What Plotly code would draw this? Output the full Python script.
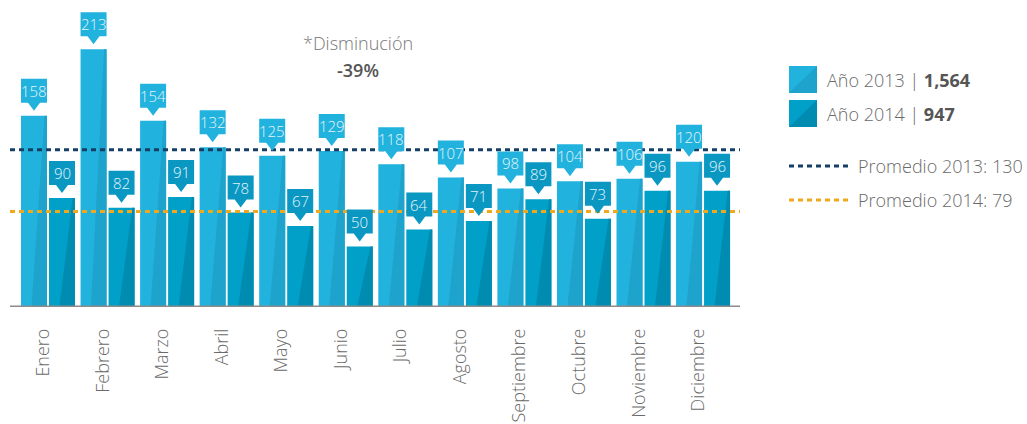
import plotly.graph_objects as go

# Monthly totals
months = ["Enero", "Febrero", "Marzo", "Abril", "Mayo", "Junio", "Julio",
          "Agosto", "Septiembre", "Octubre", "Noviembre", "Diciembre"]
values_2013 = [158, 213, 154, 132, 125, 129, 118, 107, 98, 104, 106, 120]
values_2014 = [90, 82, 91, 78, 67, 50, 64, 71, 89, 73, 96, 96]

total_2013 = sum(values_2013)
total_2014 = sum(values_2014)
avg_2013 = round(total_2013 / len(values_2013))
avg_2014 = round(total_2014 / len(values_2014))
change_pct = round((total_2014 / total_2013 - 1) * 100)

# colours
C13, C13_DARK = "#22b2de", "#1ea3cc"
C14, C14_DARK = "#00a0c8", "#008cb1"
AVG13_COLOR, AVG14_COLOR = "#163f66", "#f0a81c"
TEXT = "#6a6a6a"
FONT = "Open Sans"

# page geometry (pixels)
W, H = 1027, 424
ML, MR, MT, MB = 10, 287, 10, 117
PW, PH = W - ML - MR, H - MT - MB
PITCH = 59.55          # pixels per month group
FIRST_CENTER = 48      # pixel x of first group centre
BAR_W = 26 / PITCH
OFF13 = -27 / PITCH
OFF14 = 1 / PITCH
PX_PER_UNIT = 1.21

x_min = (ML - FIRST_CENTER) / PITCH
x_max = (ML + PW - FIRST_CENTER) / PITCH
y_max = PH / PX_PER_UNIT


def paper_x(px):
    return (px - ML) / PW


def paper_y(py):
    return (MT + PH - py) / PH


idx = list(range(len(months)))

fig = go.Figure()
fig.add_trace(go.Bar(x=idx, y=values_2013, width=BAR_W, offset=OFF13,
                     marker=dict(color=C13, line=dict(width=0)),
                     name="2013", hoverinfo="skip"))
fig.add_trace(go.Bar(x=idx, y=values_2014, width=BAR_W, offset=OFF14,
                     marker=dict(color=C14, line=dict(width=0)),
                     name="2014", hoverinfo="skip"))

shapes = []
annotations = []

# subtle diagonal shading on the right side of each bar
for vals, off, dark in ((values_2013, OFF13, C13_DARK), (values_2014, OFF14, C14_DARK)):
    for i, v in enumerate(vals):
        xl = i + off
        xr = xl + BAR_W
        path = (f"M {xr - 0.04},{v} L {xr},{v} L {xr},0 "
                f"L {xl + 0.4 * BAR_W},0 Z")
        shapes.append(dict(type="path", xref="x", yref="y", path=path,
                           fillcolor=dark, line=dict(width=0), layer="above"))

# average lines
for avg, col in ((avg_2013, AVG13_COLOR), (avg_2014, AVG14_COLOR)):
    shapes.append(dict(type="line", xref="paper", yref="y", x0=0, x1=1,
                       y0=avg, y1=avg,
                       line=dict(color=col, width=3, dash="5px,4px")))

# baseline
shapes.append(dict(type="line", xref="paper", yref="y", x0=0, x1=1, y0=0, y1=0,
                   line=dict(color="#8c8c8c", width=3)))

# value callouts above each bar
HW = 6 / PITCH
for vals, off, col in ((values_2013, OFF13, C13), (values_2014, OFF14, "#0a98c2")):
    for i, v in enumerate(vals):
        xl = i + off
        xr = xl + BAR_W
        xc = (xl + xr) / 2
        path = (f"M {xl},37 L {xr},37 L {xr},13 L {xc + HW},13 L {xc},5 "
                f"L {xc - HW},13 L {xl},13 Z")
        shapes.append(dict(type="path", xref="x", yref="y", ysizemode="pixel",
                           yanchor=v, path=path, fillcolor=col,
                           line=dict(width=0)))
        annotations.append(dict(x=xc, y=v, xref="x", yref="y", yshift=25,
                                xanchor="center", yanchor="middle",
                                text=str(v), showarrow=False,
                                font=dict(family=FONT, size=15, color="#e2f5fb",
                                          weight=300)))

# legend: coloured squares split diagonally
for top, light, dark in ((66, C13, C13_DARK), (100, "#00a0c8", C14_DARK)):
    x0, x1 = paper_x(789), paper_x(817)
    y0, y1 = paper_y(top + 27), paper_y(top)
    shapes.append(dict(type="rect", xref="paper", yref="paper",
                       x0=x0, x1=x1, y0=y0, y1=y1,
                       fillcolor=light, line=dict(width=0)))
    shapes.append(dict(type="path", xref="paper", yref="paper",
                       path=f"M {x0},{y0} L {x1},{y0} L {x1},{y1} Z",
                       fillcolor=dark, line=dict(width=0)))

legend_rows = [
    (80, f"Año 2013 | <b><span style='color:#555555'>{total_2013:,}</span></b>"),
    (114, f"Año 2014 | <b><span style='color:#555555'>{total_2014:,}</span></b>"),
]
for y, txt in legend_rows:
    annotations.append(dict(x=paper_x(825), y=paper_y(y), xref="paper", yref="paper",
                            xanchor="left", yanchor="middle", text=txt,
                            showarrow=False,
                            font=dict(family=FONT, size=18, color=TEXT, weight=300)))

for y, col, txt in ((166, AVG13_COLOR, f"Promedio 2013: {avg_2013}"),
                    (200, AVG14_COLOR, f"Promedio 2014: {avg_2014}")):
    shapes.append(dict(type="line", xref="paper", yref="paper",
                       x0=paper_x(789), x1=paper_x(849),
                       y0=paper_y(y), y1=paper_y(y),
                       line=dict(color=col, width=3, dash="5px,4px")))
    annotations.append(dict(x=paper_x(856), y=paper_y(y), xref="paper", yref="paper",
                            xanchor="left", yanchor="middle", text=txt,
                            showarrow=False,
                            font=dict(family=FONT, size=18, color=TEXT, weight=300)))

# change note
annotations.append(dict(x=paper_x(358), y=paper_y(43), xref="paper", yref="paper",
                        xanchor="center", yanchor="middle",
                        text="*Disminución", showarrow=False,
                        font=dict(family=FONT, size=18, color="#777777", weight=300)))
annotations.append(dict(x=paper_x(358), y=paper_y(70), xref="paper", yref="paper",
                        xanchor="center", yanchor="middle",
                        text=f"{change_pct}%", showarrow=False,
                        font=dict(family=FONT, size=18, color="#555555", weight=600)))

fig.update_layout(
    width=W, height=H,
    margin=dict(l=ML, r=MR, t=MT, b=MB, pad=0, autoexpand=False),
    paper_bgcolor="white", plot_bgcolor="white",
    showlegend=False,
    barmode="overlay",
    shapes=shapes,
    annotations=annotations,
    xaxis=dict(range=[x_min, x_max], tickmode="array",
               tickvals=[i - 0.08 for i in idx], ticktext=months,
               tickangle=-90, ticks="", showgrid=False, zeroline=False,
               showline=False, ticklabelstandoff=17, automargin=False,
               tickfont=dict(family=FONT, size=18, color=TEXT, weight=300)),
    yaxis=dict(range=[0, y_max], visible=False, showgrid=False, zeroline=False),
)

fig.write_html("out.html")
